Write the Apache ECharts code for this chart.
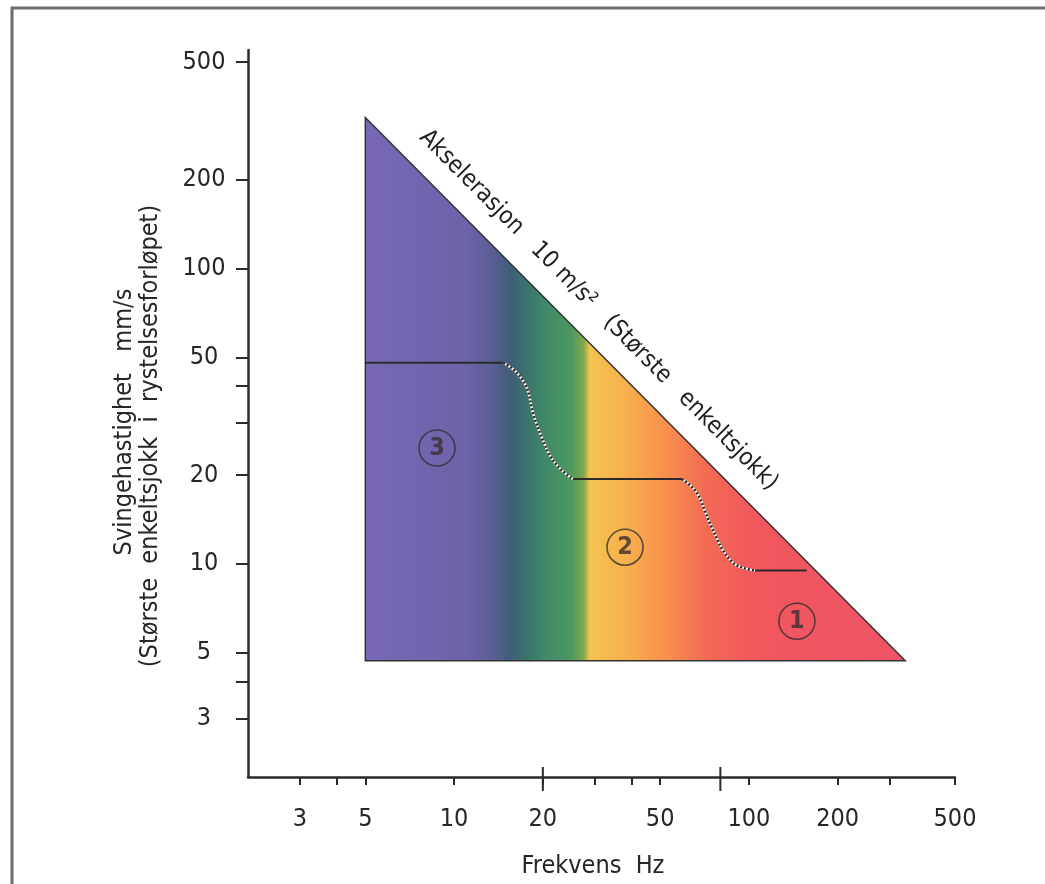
<!DOCTYPE html>
<html><head><meta charset="utf-8">
<script src="https://cdn.jsdelivr.net/npm/echarts@6/dist/echarts.min.js"></script>
<style>html,body{margin:0;padding:0;background:#fff}#c{width:1045px;height:884px}</style>
</head><body><div id="c"></div>
<script>
// ---------- data ----------
const xTickLabels = [3, 5, 10, 20, 50, 100, 200, 500];
const xMinorTicks = [4, 30, 40, 300];
const xLongTicks = [20, 80];
const yTickLabels = [3, 5, 10, 20, 50, 100, 200, 500];
const yMinorTicks = [4, 30, 40];
const xRange = [2, 500];      // Hz
const yRange = [1.9, 550];    // mm/s
// triangle: 5 Hz edge, 10 m/s² acceleration line, floor
const triangle = [[5, 4.7], [5, 325], [339, 4.7]];
const hypAnchor = [26, 61];
const hypText = 'Akselerasjon   10 m/s²   (Største   enkeltsjokk)';
const limitSolid1 = [[5, 48], [14.7, 48]];
const limitCurve1 = [[14.7, 48], [16.35, 44.4], [17.7, 39.2], [18.5, 32.5], [19.9, 26.6], [21.2, 23.2], [22.9, 21.0], [25.3, 19.4]];
const limitSolid2 = [[25.3, 19.4], [59.3, 19.4]];
const limitCurve2 = [[59.3, 19.4], [64.6, 18.1], [68.2, 16.7], [70.9, 15.1], [73.8, 13.7], [77.9, 12.2], [81.7, 11.1], [88.3, 10.1], [95.5, 9.7], [104.8, 9.5]];
const limitSolid3 = [[104.8, 9.5], [157, 9.5]];
const zoneNames = ['3', '2', '1'];
const zonePos = [[8.75, 24.7], [38, 11.4], [145.5, 6.4]];
// colour bands along frequency (style)
const bandStops = [[5, '#7868b6'], [11, '#6d63a9'], [13.3, '#5c5e98'], [15.5, '#3f5d78'], [17.5, '#3b726c'], [20.5, '#3f8a69'], [25, '#4d985d'], [27.6, '#86a84f'], [28.8, '#f3c350'], [38, '#f8b04d'], [52, '#f7904d'], [72, '#f36a54'], [105, '#f1575d'], [339, '#ef5468']];

// ---------- helpers ----------
const L = Math.log10;
const lg = p => [L(p[0]), L(p[1])];
const FONT = "'Liberation Sans Narrow','DejaVu Sans Condensed','DejaVu Sans',sans-serif";
const INK = '#2b2b2b';
const TXT = '#262626';

const chart = echarts.init(document.getElementById('c'), null, {renderer: 'canvas'});

const lineSeries = (pts, dotted) => ({
  type: 'line', data: pts.map(lg), symbol: 'none', smooth: dotted ? 0.35 : false,
  lineStyle: dotted ? {color: INK, width: 2.6, type: [2, 2]} : {color: INK, width: 2},
  z: 5, silent: true
});
const whiteUnder = pts => ({
  type: 'line', data: pts.map(lg), symbol: 'none', smooth: 0.35,
  lineStyle: {color: '#f4efe8', width: 2.6}, z: 4, silent: true
});

const option = {
  animation: false,
  backgroundColor: '#ffffff',
  grid: {left: 248, right: 90, top: 50, bottom: 107},
  xAxis: {
    type: 'value', min: L(xRange[0]), max: L(xRange[1]),
    axisLine: {show: true, lineStyle: {color: INK, width: 2.5}},
    axisTick: {show: true, customValues: xTickLabels.concat(xMinorTicks).map(L), length: 8, lineStyle: {color: INK, width: 2}},
    axisLabel: {customValues: xTickLabels.map(L), formatter: v => String(Math.round(Math.pow(10, v))),
      margin: 30, fontSize: 25, color: TXT, fontFamily: FONT},
    splitLine: {show: false}
  },
  yAxis: {
    type: 'value', min: L(yRange[0]), max: L(yRange[1]),
    axisLine: {show: true, lineStyle: {color: INK, width: 2.5}},
    axisTick: {show: true, customValues: yTickLabels.concat(yMinorTicks).map(L), length: 12, lineStyle: {color: INK, width: 2}},
    axisLabel: {customValues: yTickLabels.map(L), formatter: v => String(Math.round(Math.pow(10, v))),
      margin: 44, align: 'center', fontSize: 25, color: TXT, fontFamily: FONT},
    splitLine: {show: false}
  },
  graphic: [
    {type: 'rect', shape: {x: 12, y: 8, width: 1200, height: 1000}, style: {fill: 'none', stroke: '#6e6e6e', lineWidth: 3}, z: -10},
    {type: 'text', x: 124, y: 422, rotation: Math.PI / 2,
      style: {text: 'Svingehastighet   mm/s', fontSize: 25, fontFamily: FONT, fill: TXT, align: 'center', verticalAlign: 'middle'}},
    {type: 'text', x: 150, y: 436, rotation: Math.PI / 2,
      style: {text: '(Største  enkeltsjokk  i  rystelsesforløpet)', fontSize: 25, fontFamily: FONT, fill: TXT, align: 'center', verticalAlign: 'middle'}},
    {type: 'text', x: 593, y: 866,
      style: {text: 'Frekvens  Hz', fontSize: 25, fontFamily: FONT, fill: TXT, align: 'center', verticalAlign: 'middle'}}
  ],
  series: [
    { // coloured triangle
      type: 'custom', data: [0], z: 1, silent: true,
      renderItem: (params, api) => {
        const pts = triangle.map(p => api.coord(lg(p)));
        const x0 = api.coord([L(bandStops[0][0]), 0])[0];
        const x1 = api.coord([L(bandStops[bandStops.length - 1][0]), 0])[0];
        const stops = bandStops.map(s => ({offset: Math.min(1, Math.max(0, (api.coord([L(s[0]), 0])[0] - x0) / (x1 - x0))), color: s[1]}));
        return {type: 'polygon', shape: {points: pts},
          style: {fill: new echarts.graphic.LinearGradient(x0, 0, x1, 0, stops, true), stroke: '#333', lineWidth: 1.5}};
      }
    },
    { // long ticks on x axis
      type: 'custom', data: xLongTicks.map(L), z: 6, silent: true,
      renderItem: (params, api) => {
        const p = api.coord([api.value(0), L(yRange[0])]);
        return {type: 'line', shape: {x1: p[0], y1: p[1] - 10, x2: p[0], y2: p[1] + 14}, style: {stroke: INK, lineWidth: 2}};
      }
    },
    { // text along acceleration line
      type: 'custom', data: [0], z: 6, silent: true,
      renderItem: (params, api) => {
        const a = api.coord(lg(triangle[1])), b = api.coord(lg(triangle[2]));
        const th = Math.atan2(b[1] - a[1], b[0] - a[0]);
        const c = api.coord(lg(hypAnchor));
        const off = 31;
        return {type: 'text', x: c[0] + off * Math.sin(th), y: c[1] - off * Math.cos(th), rotation: -th,
          style: {text: hypText, fontSize: 24, fontFamily: FONT, fill: '#1f1f1f', align: 'center', verticalAlign: 'middle'}};
      }
    },
    lineSeries(limitSolid1, false),
    whiteUnder(limitCurve1),
    lineSeries(limitCurve1, true),
    lineSeries(limitSolid2, false),
    whiteUnder(limitCurve2),
    lineSeries(limitCurve2, true),
    lineSeries(limitSolid3, false),
    { // circled zone numbers
      type: 'scatter', data: zonePos.map((p, i) => ({value: lg(p), name: zoneNames[i]})),
      symbol: 'circle', symbolSize: 36, z: 7, silent: true,
      itemStyle: {color: 'rgba(0,0,0,0)', borderColor: '#2f2f2f', borderWidth: 1.6},
      label: {show: true, position: 'inside', formatter: p => p.name, fontSize: 25, fontWeight: 'bold', color: '#3a3030', fontFamily: FONT}
    }
  ]
};
chart.setOption(option);
</script></body></html>
